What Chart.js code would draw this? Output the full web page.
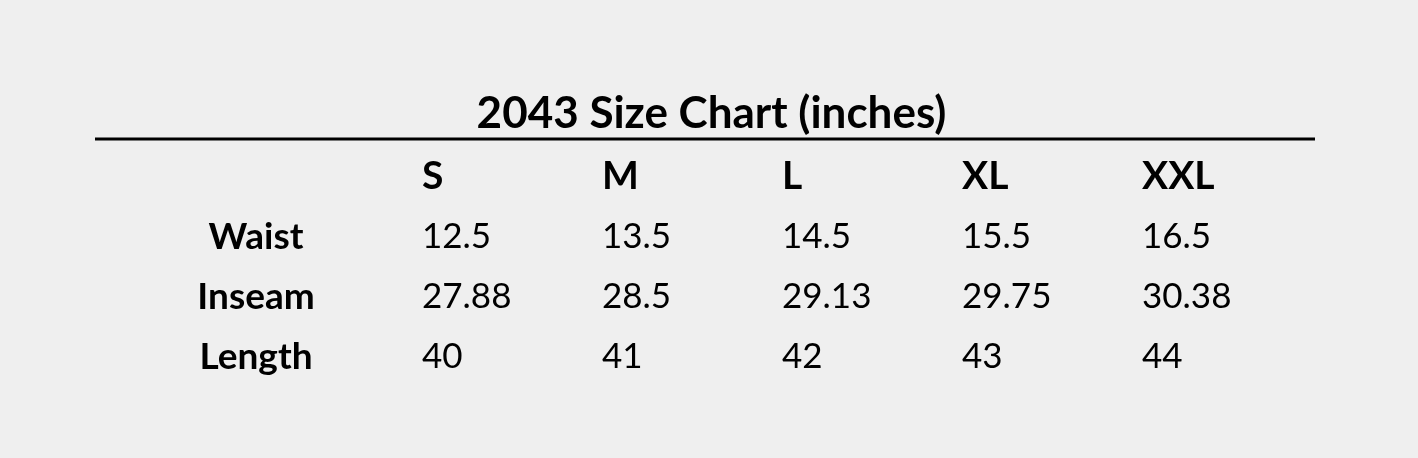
<!DOCTYPE html>
<html>
<head>
<meta charset="utf-8">
<script src="https://cdn.jsdelivr.net/npm/chart.js@4/dist/chart.umd.min.js"></script>
<style>
  body { margin: 0; background: #efefef; }
  #wrap { width: 1418px; height: 458px; }
</style>
</head>
<body>
<div id="wrap"><canvas id="sizeChart"></canvas></div>
<script>
// dados da tabela de tamanhos
const sizes = ['S', 'M', 'L', 'XL', 'XXL'];
const rows = ['Waist', 'Inseam', 'Length'];
const waist = [12.5, 13.5, 14.5, 15.5, 16.5];
const inseam = [27.88, 28.5, 29.13, 29.75, 30.38];
const length = [40, 41, 42, 43, 44];
const title = '2043 Size Chart (inches)';

const FONT = 'Lato, "Open Sans", sans-serif';

// monta os pontos (uma célula por ponto)
function cells(rowName, values) {
  return values.map((v, i) => ({ x: sizes[i], y: rowName, v: v }));
}

// desenha os textos das células, os rótulos das linhas e a régua abaixo do título
const tablePlugin = {
  id: 'tableText',
  afterDatasetsDraw(chart) {
    const ctx = chart.ctx;
    const yScale = chart.scales.y;
    ctx.save();
    ctx.fillStyle = '#000';
    ctx.textBaseline = 'middle';

    // células
    ctx.font = '35px ' + FONT;
    ctx.textAlign = 'left';
    chart.data.datasets.forEach((ds, di) => {
      const meta = chart.getDatasetMeta(di);
      meta.data.forEach((el, i) => {
        ctx.fillText(String(ds.data[i].v), el.x, el.y);
      });
    });

    // rótulos das linhas
    ctx.font = 'bold 37px ' + FONT;
    ctx.textAlign = 'center';
    rows.forEach((r, i) => {
      ctx.fillText(r, chart.chartArea.left - 166, yScale.getPixelForValue(i));
    });

    // régua
    ctx.strokeStyle = '#000';
    ctx.lineWidth = 3;
    ctx.beginPath();
    ctx.moveTo(95, 139);
    ctx.lineTo(1315, 139);
    ctx.stroke();
    ctx.restore();
  }
};

// eixo vazio só para reservar espaço
function spacer(position, width) {
  return {
    type: 'linear',
    position: position,
    display: true,
    grid: { display: false, drawTicks: false },
    border: { display: false },
    ticks: { display: false },
    afterFit(scale) { scale.width = width; },
  };
}

const ctx = document.getElementById('sizeChart').getContext('2d');
const myChart = new Chart(ctx, {
  type: 'scatter',
  data: {
    datasets: [
      { label: rows[0], data: cells(rows[0], waist) },
      { label: rows[1], data: cells(rows[1], inseam) },
      { label: rows[2], data: cells(rows[2], length) },
    ],
  },
  options: {
    responsive: true,
    maintainAspectRatio: false,
    animation: false,
    events: [],
    elements: { point: { radius: 0, hoverRadius: 0 } },
    layout: { padding: { left: 100, right: 95, top: 0, bottom: 71 } },
    plugins: {
      legend: { display: false },
      tooltip: { enabled: false },
      title: {
        display: true,
        text: title,
        color: '#000',
        font: { family: FONT, size: 44, weight: 'bold', lineHeight: 1.2 },
        padding: { top: 87, bottom: 5.4 },
      },
    },
    scales: {
      x: {
        type: 'category',
        labels: sizes,
        position: 'top',
        offset: false,
        grid: { display: false, drawTicks: false },
        border: { display: false },
        ticks: {
          color: '#000',
          align: 'start',
          padding: 7.5,
          autoSkip: false,
          maxRotation: 0,
          font: { family: FONT, size: 39, weight: 'bold' },
        },
      },
      y: {
        type: 'category',
        labels: rows,
        offset: true,
        position: 'left',
        grid: { display: false, drawTicks: false },
        border: { display: false },
        ticks: { display: false },
        afterFit(scale) { scale.width = 322; },
      },
      yRight: spacer('right', 181),
    },
  },
  plugins: [tablePlugin],
});
</script>
</body>
</html>
